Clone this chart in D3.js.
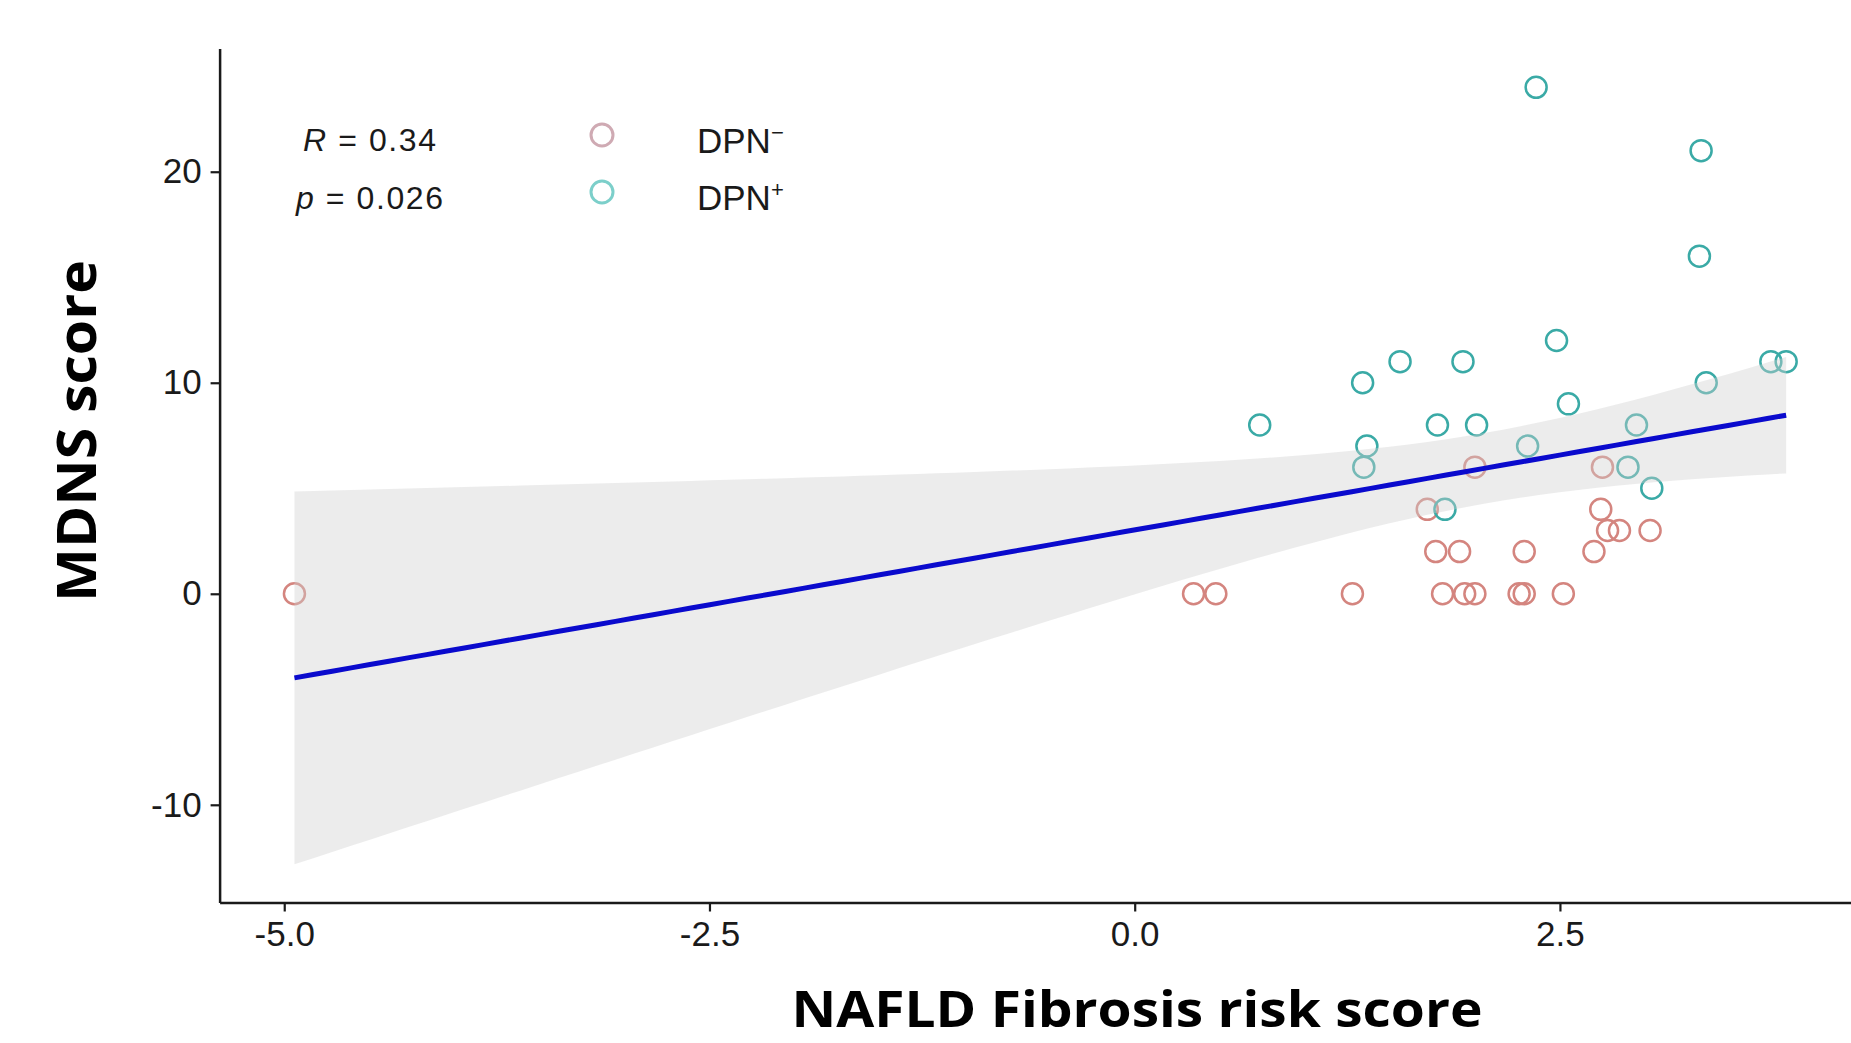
<!DOCTYPE html>
<html>
<head>
<meta charset="utf-8">
<script src="https://cdn.jsdelivr.net/npm/d3@7"></script>
<style>
  html, body { margin: 0; padding: 0; background: #fff; }
  svg { display: block; }
</style>
</head>
<body>
<div id="chart"></div>
<script>
// DPN- group (NAFLD fibrosis score, MDNS score)
const dpnNegX = [-4.94, 0.346, 0.477, 1.28, 1.81, 1.94, 2.00, 2.26, 2.29, 2.52,
                 1.77, 1.91, 2.29, 2.70, 2.78, 2.85, 3.03, 1.72, 2.74, 2.00, 2.75];
const dpnNegY = [0, 0, 0, 0, 0, 0, 0, 0, 0, 0,
                 2, 2, 2, 2, 3, 3, 3, 4, 4, 6, 6];
// DPN+ group
const dpnPosX = [1.824, 3.04, 1.347, 2.90, 1.365, 2.31, 0.735, 1.78, 2.01, 2.95, 2.55,
                 1.34, 3.36, 1.56, 1.93, 3.74, 3.83, 2.48, 3.32, 3.33, 2.36];
const dpnPosY = [4, 5, 6, 6, 7, 7, 8, 8, 8, 8, 9,
                 10, 10, 11, 11, 11, 11, 12, 16, 21, 24];

const xTicks = [-5, -2.5, 0, 2.5];
const yTicks = [-10, 0, 10, 20];
const statLabels = ['R = 0.34', 'p = 0.026'];
const groupNames = ['DPN', 'DPN'];
const groupSigns = ['\u2212', '+'];

const width = 1851, height = 1043;
const tCrit = 2.021; // t(0.975, df = 40)

const svg = d3.select('#chart').append('svg')
    .attr('width', width)
    .attr('height', height)
    .style('background', '#fff');

const x = d3.scaleLinear().domain([-5.38, 4.27]).range([219.6, 1861]);
const y = d3.scaleLinear().domain([-14.63, 25.84]).range([902.5, 48.5]);

// 所有点
const points = [];
dpnNegX.forEach((v, i) => points.push({ x: v, y: dpnNegY[i], g: 0 }));
dpnPosX.forEach((v, i) => points.push({ x: v, y: dpnPosY[i], g: 1 }));

// 线性回归 + 95% 置信带
const n = points.length;
const mx = d3.mean(points, d => d.x);
const my = d3.mean(points, d => d.y);
const sxx = d3.sum(points, d => (d.x - mx) * (d.x - mx));
const sxy = d3.sum(points, d => (d.x - mx) * (d.y - my));
const slope = sxy / sxx;
const intercept = my - slope * mx;
const sse = d3.sum(points, d => Math.pow(d.y - (intercept + slope * d.x), 2));
const s = Math.sqrt(sse / (n - 2));

const xMin = d3.min(points, d => d.x), xMax = d3.max(points, d => d.x);
const fit = d3.range(80).map(i => {
    const xv = xMin + (xMax - xMin) * i / 79;
    const yv = intercept + slope * xv;
    const se = s * Math.sqrt(1 / n + (xv - mx) * (xv - mx) / sxx);
    return { x: xv, y: yv, lo: yv - tCrit * se, hi: yv + tCrit * se };
});

const colors = ['#D4857F', '#3AAAA6'];
const legendColors = ['#CFAAB3', '#7CCFCA'];

// 坐标轴
const xAxis = svg.append('g')
    .attr('transform', 'translate(0,' + y.range()[0] + ')')
    .call(d3.axisBottom(x).tickValues(xTicks).tickFormat(d3.format('.1f'))
        .tickSize(9).tickSizeOuter(0).tickPadding(10));
const yAxis = svg.append('g')
    .attr('transform', 'translate(' + x.range()[0] + ',0)')
    .call(d3.axisLeft(y).tickValues(yTicks).tickFormat(d => d3.format('d')(d).replace('\u2212', '-'))
        .tickSize(9).tickSizeOuter(0).tickPadding(9));

xAxis.selectAll('text').text(d => d3.format('.1f')(d).replace('\u2212', '-'));
[xAxis, yAxis].forEach(a => {
    a.select('.domain').attr('stroke', '#1a1a1a').attr('stroke-width', 2.5);
    a.selectAll('.tick line').attr('stroke', '#1a1a1a').attr('stroke-width', 2.2);
    a.selectAll('.tick text')
        .attr('fill', '#1a1a1a')
        .style('font-family', '"Liberation Sans", Arial, sans-serif')
        .style('font-size', '35px');
});

// 散点
svg.append('g').selectAll('circle')
    .data(points)
    .enter()
    .append('circle')
    .attr('cx', d => x(d.x))
    .attr('cy', d => y(d.y))
    .attr('r', 10.5)
    .attr('fill', 'none')
    .attr('stroke', d => colors[d.g])
    .attr('stroke-width', 2.5);

// 置信带
const band = d3.area()
    .x(d => x(d.x))
    .y0(d => y(d.lo))
    .y1(d => y(d.hi));
svg.append('path')
    .datum(fit)
    .attr('d', band)
    .attr('fill', '#cfcfcf')
    .attr('opacity', 0.4);

// 回归线
const line = d3.line()
    .x(d => x(d.x))
    .y(d => y(d.y));
svg.append('path')
    .datum(fit)
    .attr('d', line)
    .attr('fill', 'none')
    .attr('stroke', '#0A0ACD')
    .attr('stroke-width', 5);

// R / p 标注
const stat = svg.append('g')
    .style('font-family', '"Liberation Sans", Arial, sans-serif')
    .style('font-size', '32px')
    .attr('fill', '#1a1a1a');
const statPos = [{ x: 303, y: 150.7, w: 133 }, { x: 296, y: 208.5, w: 147 }];
statLabels.forEach((lab, i) => {
    const t = stat.append('text')
        .attr('x', statPos[i].x)
        .attr('y', statPos[i].y)
        .attr('textLength', statPos[i].w)
        .attr('lengthAdjust', 'spacing');
    const parts = lab.split(' ');
    t.append('tspan').style('font-style', 'italic').text(parts[0]);
    t.append('tspan').text(' ' + parts.slice(1).join(' '));
});

// 图例
const legend = svg.append('g');
groupNames.forEach((name, i) => {
    const cy = 135 + i * 57;
    legend.append('circle')
        .attr('cx', 602)
        .attr('cy', cy)
        .attr('r', 11)
        .attr('fill', 'none')
        .attr('stroke', legendColors[i])
        .attr('stroke-width', 3);
    const t = legend.append('text')
        .attr('x', 697)
        .attr('y', cy + 18)
        .attr('fill', '#1a1a1a')
        .style('font-family', '"Liberation Sans", Arial, sans-serif')
        .style('font-size', '35px')
        .text(name);
    t.append('tspan')
        .attr('dy', -13)
        .style('font-size', '22px')
        .text(groupSigns[i]);
});

// 轴标题
svg.append('text')
    .attr('x', 1137)
    .attr('y', 1027)
    .attr('text-anchor', 'middle')
    .attr('textLength', 691)
    .attr('lengthAdjust', 'spacingAndGlyphs')
    .style('font-family', '"Open Sans", Lato, sans-serif')
    .style('font-weight', 'bold')
    .style('font-size', '50px')
    .attr('fill', '#000')
    .text('NAFLD Fibrosis risk score');

svg.append('text')
    .attr('transform', 'translate(96,431) rotate(-90)')
    .attr('text-anchor', 'middle')
    .attr('textLength', 342)
    .attr('lengthAdjust', 'spacingAndGlyphs')
    .style('font-family', '"Open Sans", Lato, sans-serif')
    .style('font-weight', 'bold')
    .style('font-size', '53px')
    .attr('fill', '#000')
    .text('MDNS score');
</script>
</body>
</html>
